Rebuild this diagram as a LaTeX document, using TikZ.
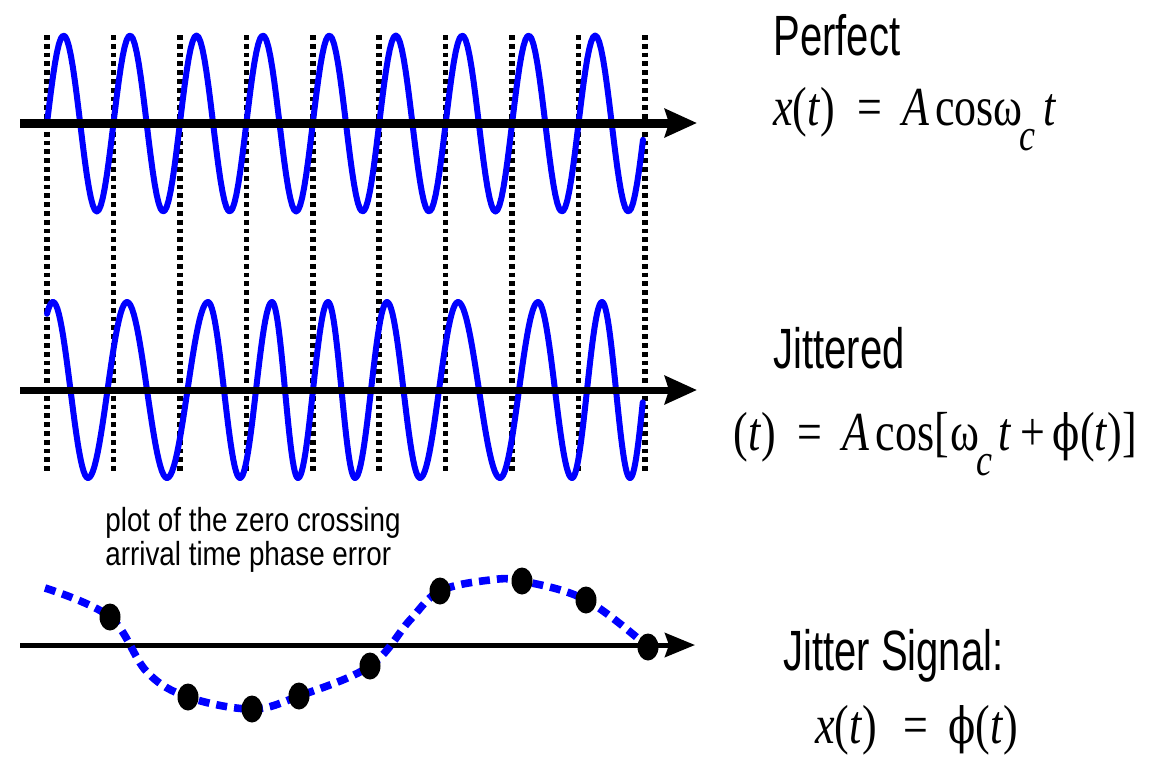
\documentclass[tikz,border=0pt]{standalone}
\usepackage{fontspec}
\setmainfont{Liberation Sans}
\newfontfamily\timesfont{Liberation Serif}
\newfontfamily\phifont{DejaVu Serif}
\usetikzlibrary{arrows.meta,shapes.geometric}
\definecolor{waveblue}{RGB}{0,0,255}
\tikzset{
  wave/.style={
    draw=waveblue,
    line width=3pt,
    line join=round,
    line cap=round
  },
  gridline/.style={
    line width=2.8pt,
    dash pattern=on 2.4pt off 2pt
  },
  axis/.style={
    -{Stealth[length=16pt,width=14pt,inset=2pt]},
    line width=4.5pt
  },
  heading/.style={
    anchor=base west,
    inner sep=0pt,
    yscale=1.42,
    font=\fontsize{20pt}{24pt}\selectfont
  },
  formula/.style={
    anchor=base west,
    inner sep=0pt,
    yscale=1.25,
    font=\timesfont\fontsize{22pt}{26pt}\selectfont
  },
  note/.style={
    anchor=north west,
    inner sep=0pt,
    align=left,
    yscale=1.2,
    font=\fontsize{13.9pt}{12.9pt}\selectfont
  },
  jitter/.style={
    draw=waveblue,
    line width=3.8pt,
    dash pattern=on 5.5pt off 3.5pt
  },
  jdot/.style={
    ellipse,
    fill=black,
    inner sep=0pt,
    minimum width=10.5pt,
    minimum height=13.5pt
  }
}
\newcommand{\subc}{\raisebox{-10pt}{\fontsize{18pt}{18pt}\selectfont\textit{c}}}
\newcommand{\phis}{{\phifont\fontsize{20pt}{24pt}\selectfont ϕ}}

\begin{document}
\begin{tikzpicture}[x=0.5pt,y=-0.5pt]
\useasboundingbox (0,0) rectangle (1170,757);

% zero crossing markers
\foreach \i in {0,...,9}
  \draw[gridline] ({47+66.44*\i},35) -- ({47+66.44*\i},473);

% perfect carrier
\draw[wave] plot[domain=47:643,samples=300] (\x,{123.5-88*sin((\x-47)*5.4184)});
\coordinate (a1s) at (20,123);
\coordinate (a1e) at (697,123);
\draw[axis] (a1s) -- (a1e);

% jittered carrier, half cycles between extrema
\draw[wave] plot[domain=150:180,samples=10] ({17+36*\x/180},{390+88*cos(\x)});
\foreach \xa/\xb/\sg in {53/88/1,88/127/-1,127/167/1,167/208/-1,208/240/1,240/272/-1,
  272/298/1,298/328/-1,328/355/1,355/387/-1,387/420/1,420/458/-1,458/500/1,500/538/-1,
  538/572/1,572/602/-1,602/630/1}
  \draw[wave] plot[domain=0:180,samples=25] ({\xa+(\xb-\xa)*\x/180},{390-\sg*88*cos(\x)});
\draw[wave] plot[domain=0:82,samples=15] ({630+28*\x/180},{390+88*cos(\x)});
\coordinate (a2s) at (20,390);
\coordinate (a2e) at (697,390);
\draw[axis,line width=3.5pt] (a2s) -- (a2e);

% phase error
\coordinate (a3s) at (20,645);
\coordinate (a3e) at (695,645);
\draw[axis,line width=2.5pt,-{Stealth[length=15pt,width=12pt,inset=2pt]}] (a3s) -- (a3e);
\coordinate (p0) at (45,588);
\coordinate (p1) at (110,617);
\coordinate (p2) at (188,697);
\coordinate (p3) at (252,709);
\coordinate (p4) at (299,696);
\coordinate (p5) at (370,666);
\coordinate (p6) at (440,591);
\coordinate (p7) at (522,581);
\coordinate (p8) at (586,600);
\coordinate (p9) at (648,647);
\draw[jitter] plot[smooth,tension=0.6] coordinates {(p0) (p1) (147,672) (p2) (p3) (p4) (p5) (410,620) (p6) (490,580) (p7) (p8) (p9)};
\foreach \i in {1,...,9}
  \node[jdot] (d\i) at (p\i) {};

\node[note] (zcnote) at (105,507) {plot of the zero crossing\\arrival time phase error};

% labels
\node[heading] (perfect) at (773,55) {Perfect};
\node[formula] (xperfect) at (773,125) {\textit{x}(\textit{t})\hspace{11pt}=\hspace{10pt}\textit{A}\hspace{3pt}cosω\hspace{-1.5pt}\subc\hspace{4pt}\textit{t}};
\node[heading] (jittered) at (773,368) {Jittered};
\node[formula] (xjittered) at (733,450) {(\textit{t})\hspace{11pt}=\hspace{10pt}\textit{A}\hspace{3pt}cos[\hspace{1pt}ω\hspace{-1.5pt}\subc\hspace{3pt}\textit{t}\hspace{4pt}+\hspace{4pt}\phis(\textit{t})]};
\node[heading] (jsignal) at (783,670) {Jitter Signal:};
\node[formula] (xsignal) at (815,743) {\textit{x}(\textit{t})\hspace{13pt}=\hspace{10pt}\phis(\textit{t})};
\end{tikzpicture}
\end{document}
